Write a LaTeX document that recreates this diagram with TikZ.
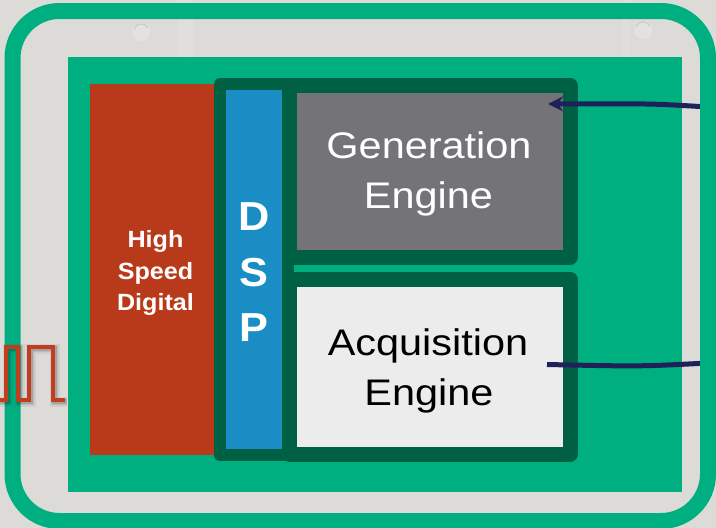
\documentclass[tikz,border=0pt]{standalone}
\usepackage{fontspec}
\setmainfont{Liberation Sans}
\newfontfamily\enginefont[FakeStretch=1.12]{Liberation Sans}
\newfontfamily\blockfont[FakeStretch=1.07]{Liberation Sans}
\usetikzlibrary{arrows.meta}

\definecolor{wallgray}{RGB}{221,219,215}
\definecolor{boardgreen}{RGB}{0,175,128}
\definecolor{framegreen}{RGB}{0,96,68}
\definecolor{hsdred}{RGB}{185,58,26}
\definecolor{dspblue}{RGB}{26,141,196}
\definecolor{gengray}{RGB}{116,115,120}
\definecolor{acqlight}{RGB}{236,236,236}
\definecolor{wirenavy}{RGB}{30,34,88}
\definecolor{pulsered}{RGB}{192,62,30}

\tikzset{
  plain/.style={inner sep=0pt, outer sep=0pt},
  enginebox/.style={plain, draw=framegreen, line width=15pt, line join=round},
  dspbox/.style={plain, draw=framegreen, fill=dspblue, line width=12pt, line join=round},
  enginetext/.style={plain, anchor=base, font=\enginefont\fontsize{37}{50}\selectfont},
  hsdtext/.style={plain, anchor=base, text=white, font=\blockfont\bfseries\fontsize{23.5}{31.5}\selectfont},
  dsptext/.style={plain, anchor=base, text=white, font=\blockfont\bfseries\fontsize{40.5}{55}\selectfont},
  wire/.style={draw=wirenavy, line width=5pt},
  pulse/.style={draw=pulsered, line width=3.6pt, line join=miter},
}

\begin{document}
\begin{tikzpicture}[x=1pt,y=-1pt]
  % wall behind the panel
  \fill[wallgray] (0,0) rectangle (716,528);
  \useasboundingbox (0,0) rectangle (716,528);
  \fill[white,opacity=0.12] (178,0) rectangle (194,57);
  \fill[white,opacity=0.10] (622,0) rectangle (630,57);
  % mounting screws
  \foreach \sx/\sy in {141/32, 643/30} {
    \fill[white,opacity=0.22] (\sx,\sy) circle (9);
    \draw[black,opacity=0.10,line width=1.2pt] (\sx-7,\sy-3) arc (200:330:7.5);
  }

  % green board
  \node[plain, fill=boardgreen, minimum width=614pt, minimum height=435pt] (board) at (375,274.5) {};

  % high speed digital block
  \node[plain, fill=hsdred, minimum width=124pt, minimum height=371pt] (hsd) at (152,269.5) {};
  \node[hsdtext] (hsd1) at (155.5,247.3) {High};
  \node[hsdtext] (hsd2) at (155.5,279.3) {Speed};
  \node[hsdtext] (hsd3) at (155.5,310.5) {Digital};

  % engines
  \node[enginebox, fill=gengray, minimum width=280.5pt, minimum height=171.5pt] (gen) at (429.75,171.25) {};
  \node[enginebox, fill=acqlight, minimum width=280.5pt, minimum height=174.5pt] (acq) at (429.75,366.75) {};

  % DSP strip
  \node[dspbox, minimum width=68pt, minimum height=371pt] (dsp) at (254,269.5) {};
  \fill[gengray] (297,93) rectangle (562,249);
  \fill[acqlight] (297,287) rectangle (562,446);
  \node[dsptext] (dspD) at (254,230) {D};
  \node[dsptext] (dspS) at (254,286) {S};
  \node[dsptext] (dspP) at (254,341) {P};

  \node[enginetext, text=white] (gen1) at (429,158) {Generation};
  \node[enginetext, text=white] (gen2) at (428.5,208) {Engine};
  \node[enginetext, text=black] (acq1) at (428,355) {Acquisition};
  \node[enginetext, text=black] (acq2) at (429,405) {Engine};

  % wires to the outside
  \coordinate (gentip) at (548,104);
  \coordinate (genfeed) at (708,107);
  \coordinate (acqtap) at (547,364.5);
  \coordinate (acqfeed) at (708,363);
  \draw[wire, -{Stealth[length=15pt,width=15pt,inset=5pt]}] (genfeed) .. controls (650,103.5) .. (gentip);
  \draw[wire] (acqtap) .. controls (640,366.5) .. (acqfeed);

  % rounded outer frame
  \node[plain, draw=boardgreen, line width=16pt, rounded corners=47pt,
        minimum width=695.5pt, minimum height=510pt] (panel) at (360.25,266) {};

  % square-wave signal with soft shadow
  \foreach \w/\o in {10/0.06, 7.5/0.09, 5.5/0.12} {
    \draw[black, opacity=\o, line width=\w pt, line join=miter]
      (0,401.5) -- (7.5,401.5) -- (7.5,348.5) -- (19.5,348.5) -- (19.5,401.5) -- (30.5,401.5)
      -- (30.5,348.5) -- (54.5,348.5) -- (54.5,401.5) -- (66.5,401.5);
  }
  \draw[pulse] (0,400) -- (6,400) -- (6,347) -- (18,347) -- (18,400) -- (29,400)
    -- (29,347) -- (53,347) -- (53,400) -- (65,400);
\end{tikzpicture}
\end{document}
